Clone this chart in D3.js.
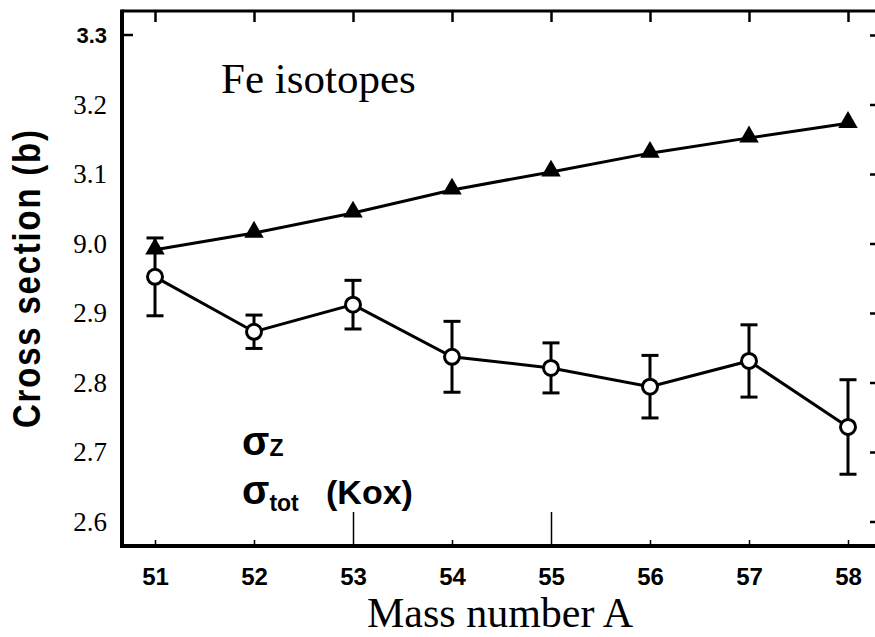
<!DOCTYPE html>
<html>
<head>
<meta charset="utf-8">
<script src="https://cdn.jsdelivr.net/npm/d3@7"></script>
<style>
  body { margin: 0; background: #fff; }
  svg { display: block; }
  .serif { font-family: "Liberation Serif", "Times New Roman", serif; }
  .sans { font-family: "Liberation Sans", Arial, sans-serif; font-weight: bold; }
</style>
</head>
<body>
<div id="chart"></div>
<script>
// mass numbers of the Fe isotopes
let massNumbers = [51, 52, 53, 54, 55, 56, 57, 58];
// sigma_tot (Kox), filled triangles
let sigmaTot = [2.991, 3.015, 3.044, 3.077, 3.103, 3.130, 3.152, 3.173];
// sigma_Z, open circles, with errors
let sigmaZ = [2.952, 2.873, 2.912, 2.837, 2.821, 2.794, 2.831, 2.736];
let sigmaZErr = [0.056, 0.024, 0.035, 0.051, 0.036, 0.045, 0.052, 0.068];
// y tick values and the labels as printed
let yTicks = [3.3, 3.2, 3.1, 3.0, 2.9, 2.8, 2.7, 2.6];
let yTickLabels = ["3.3", "3.2", "3.1", "9.0", "2.9", "2.8", "2.7", "2.6"];

let width = 875, height = 637;
let frameLeft = 122, frameTop = 11, frameBottom = 546;

let svg = d3.select("#chart").append("svg")
    .attr("width", width)
    .attr("height", height);

let x = d3.scaleLinear().domain([51, 58]).range([155, 848]);
let y = d3.scaleLinear().domain([2.6, 3.3]).range([521.5, 35]);

// top ticks
let topAxis = svg.append("g")
    .attr("transform", "translate(0," + frameTop + ")")
    .call(d3.axisTop(x).tickValues(massNumbers).tickSize(-11).tickFormat(""));
topAxis.select(".domain").remove();
topAxis.selectAll("line").attr("stroke-width", 2.5);

// bottom ticks, pointing up
let bottomAxis = svg.append("g")
    .attr("transform", "translate(0," + frameBottom + ")")
    .call(d3.axisBottom(x).tickValues(massNumbers).tickSize(-6).tickPadding(22)
        .tickFormat(d3.format("d")));
bottomAxis.select(".domain").remove();
bottomAxis.selectAll("line")
    .attr("stroke-width", 1.5)
    .attr("y2", function (d) { return (d === 53 || d === 55) ? -34 : -6; });
bottomAxis.selectAll("text")
    .attr("class", "sans")
    .attr("font-size", 24)
    .attr("fill", "#000");

// left labels
let leftAxis = svg.append("g")
    .attr("transform", "translate(" + frameLeft + ",0)")
    .call(d3.axisLeft(y).tickValues(yTicks).tickSize(0).tickPadding(15)
        .tickFormat(function (d, i) { return yTickLabels[i]; }));
leftAxis.select(".domain").remove();
leftAxis.selectAll("text")
    .attr("class", function (d) { return d === 3.3 ? "sans" : "serif"; })
    .attr("font-size", function (d) { return d === 3.3 ? 22 : 27; })
    .attr("fill", "#000");
// only the 3.3 tick is drawn on the left
svg.append("line")
    .attr("x1", frameLeft).attr("x2", frameLeft + 11)
    .attr("y1", y(3.3)).attr("y2", y(3.3))
    .attr("stroke", "#000").attr("stroke-width", 2.5);

// right ticks
let rightAxis = svg.append("g")
    .attr("transform", "translate(875,0)")
    .call(d3.axisLeft(y).tickValues(yTicks).tickSize(5).tickFormat(""));
rightAxis.select(".domain").remove();
rightAxis.selectAll("line").attr("stroke-width", 2.5);

// frame
svg.append("line").attr("x1", frameLeft).attr("x2", width).attr("y1", frameTop).attr("y2", frameTop)
    .attr("stroke", "#000").attr("stroke-width", 3);
svg.append("line").attr("x1", frameLeft).attr("x2", frameLeft).attr("y1", frameTop - 1.5).attr("y2", frameBottom + 2)
    .attr("stroke", "#000").attr("stroke-width", 4);
svg.append("line").attr("x1", frameLeft - 2).attr("x2", width).attr("y1", frameBottom).attr("y2", frameBottom)
    .attr("stroke", "#000").attr("stroke-width", 4);

// sigma_tot line and triangles
let totData = massNumbers.map(function (m, i) { return {a: m, v: sigmaTot[i]}; });
let zData = massNumbers.map(function (m, i) { return {a: m, v: sigmaZ[i], e: sigmaZErr[i]}; });

let line = d3.line()
    .x(function (d) { return x(d.a); })
    .y(function (d) { return y(d.v); });

svg.append("path")
    .datum(totData)
    .attr("d", line)
    .attr("fill", "none")
    .attr("stroke", "#000")
    .attr("stroke-width", 3);

svg.selectAll(".tri")
    .data(totData)
    .enter()
    .append("path")
    .attr("class", "tri")
    .attr("d", d3.symbol().type(d3.symbolTriangle).size(165))
    .attr("transform", function (d) { return "translate(" + x(d.a) + "," + (y(d.v) - 1) + ")"; })
    .attr("fill", "#000");

// sigma_Z error bars, line and circles
let err = svg.selectAll(".err")
    .data(zData)
    .enter()
    .append("g")
    .attr("class", "err")
    .attr("stroke", "#000")
    .attr("stroke-width", 3);
err.append("line")
    .attr("x1", function (d) { return x(d.a); })
    .attr("x2", function (d) { return x(d.a); })
    .attr("y1", function (d) { return y(d.v + d.e); })
    .attr("y2", function (d) { return y(d.v - d.e); });
err.append("line")
    .attr("x1", function (d) { return x(d.a) - 8.5; })
    .attr("x2", function (d) { return x(d.a) + 8.5; })
    .attr("y1", function (d) { return y(d.v + d.e); })
    .attr("y2", function (d) { return y(d.v + d.e); });
err.append("line")
    .attr("x1", function (d) { return x(d.a) - 8.5; })
    .attr("x2", function (d) { return x(d.a) + 8.5; })
    .attr("y1", function (d) { return y(d.v - d.e); })
    .attr("y2", function (d) { return y(d.v - d.e); });

svg.append("path")
    .datum(zData)
    .attr("d", line)
    .attr("fill", "none")
    .attr("stroke", "#000")
    .attr("stroke-width", 3);

svg.selectAll(".circ")
    .data(zData)
    .enter()
    .append("circle")
    .attr("class", "circ")
    .attr("cx", function (d) { return x(d.a); })
    .attr("cy", function (d) { return y(d.v); })
    .attr("r", 7.5)
    .attr("fill", "#fff")
    .attr("stroke", "#000")
    .attr("stroke-width", 3);

// title
svg.append("text")
    .attr("class", "serif")
    .attr("x", 221)
    .attr("y", 93)
    .attr("font-size", 43)
    .text("Fe isotopes");

// legend
let leg1 = svg.append("text")
    .attr("class", "sans")
    .attr("x", 242)
    .attr("y", 455)
    .attr("font-size", 40);
leg1.append("tspan").text("σ");
leg1.append("tspan").attr("font-size", 23).attr("dy", 1).text("Z");

let leg2 = svg.append("text")
    .attr("class", "sans")
    .attr("x", 242)
    .attr("y", 504)
    .attr("font-size", 40);
leg2.append("tspan").text("σ");
leg2.append("tspan").attr("font-size", 23).attr("dy", 7).text("tot");
leg2.append("tspan").attr("font-size", 34).attr("dy", -7).attr("x", 326).text("(Kox)");

// axis titles
svg.append("text")
    .attr("class", "serif")
    .attr("x", 500)
    .attr("y", 627)
    .attr("text-anchor", "middle")
    .attr("font-size", 42)
    .text("Mass number A");

svg.append("text")
    .attr("class", "sans")
    .attr("transform", "translate(40,279) rotate(-90) scale(1,1.2)")
    .attr("text-anchor", "middle")
    .attr("font-size", 33)
    .attr("textLength", 298)
    .attr("lengthAdjust", "spacing")
    .text("Cross section (b)");
</script>
</body>
</html>
